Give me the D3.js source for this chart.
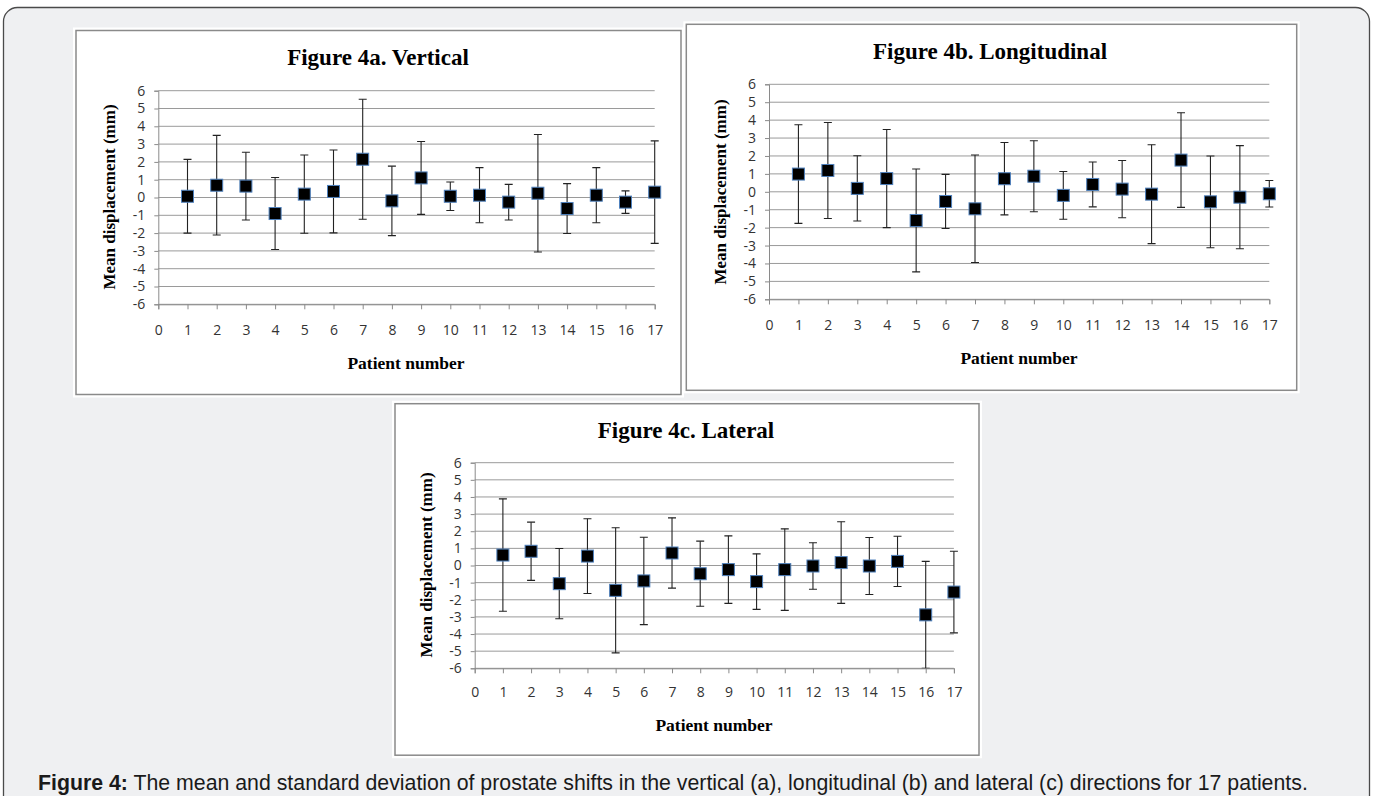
<!DOCTYPE html>
<html>
<head>
<meta charset="utf-8">
<script src="https://cdn.jsdelivr.net/npm/d3@7"></script>
<style>
  html, body { margin: 0; padding: 0; background: #ffffff; }
  svg { display: block; }
</style>
</head>
<body>
<svg id="chart" width="1375" height="796"></svg>
<script>
// ---------- DATA ----------
const patients = [1,2,3,4,5,6,7,8,9,10,11,12,13,14,15,16,17];
const xTickValues = [0,1,2,3,4,5,6,7,8,9,10,11,12,13,14,15,16,17];
const yTickValues = [-6,-5,-4,-3,-2,-1,0,1,2,3,4,5,6];

const verticalMean = [0.07,0.69,0.64,-0.90,0.19,0.34,2.15,-0.19,1.10,0.07,0.13,-0.26,0.24,-0.62,0.13,-0.26,0.30];
const verticalSD   = [2.07,2.80,1.90,2.02,2.20,2.33,3.37,1.95,2.05,0.80,1.55,1.00,3.30,1.40,1.55,0.63,2.88];

const longitudinalMean = [0.99,1.19,0.19,0.74,-1.60,-0.54,-0.95,0.73,0.87,-0.20,0.41,0.15,-0.13,1.77,-0.56,-0.30,-0.11];
const longitudinalSD   = [2.75,2.68,1.82,2.74,2.87,1.51,3.00,2.02,1.98,1.33,1.25,1.60,2.76,2.64,2.56,2.88,0.74];

const lateralMean = [0.61,0.83,-1.06,0.55,-1.45,-0.90,0.73,-0.48,-0.24,-0.94,-0.24,-0.03,0.17,-0.03,0.24,-2.88,-1.55];
const lateralSD   = [3.28,1.70,2.05,2.18,3.65,2.55,2.05,1.90,1.97,1.62,2.38,1.36,2.38,1.66,1.47,3.12,2.38];

const panelTitles = ["Figure 4a. Vertical", "Figure 4b. Longitudinal", "Figure 4c. Lateral"];
const yAxisTitle = "Mean displacement (mm)";
const xAxisTitle = "Patient number";
const captionBold = "Figure 4:";
const captionText = " The mean and standard deviation of prostate shifts in the vertical (a), longitudinal (b) and lateral (c) directions for 17 patients.";

// ---------- LAYOUT ----------
const svg = d3.select("#chart");

svg.append("rect")
  .attr("x", 3.5).attr("y", 7.5)
  .attr("width", 1366).attr("height", 820)
  .attr("rx", 14).attr("ry", 14)
  .attr("fill", "#eff0f2")
  .attr("stroke", "#4a4a4a").attr("stroke-width", 1.3);

const panels = [
  { title: panelTitles[0], mean: verticalMean, sd: verticalSD,
    frame: {x: 76, y: 30.5, w: 605, h: 364},
    plot: {x0: 158.3, x1: 654.7, y0: 90.7, y1: 304.3},
    titlePos: [378, 65], yTitlePos: [109, 197], xTitlePos: [406, 369], xLabGap: 30 },
  { title: panelTitles[1], mean: longitudinalMean, sd: longitudinalSD,
    frame: {x: 686.3, y: 24.3, w: 610.4, h: 366},
    plot: {x0: 769, x1: 1269.3, y0: 84.3, y1: 299.3},
    titlePos: [990, 59], yTitlePos: [720, 192], xTitlePos: [1019, 364], xLabGap: 30 },
  { title: panelTitles[2], mean: lateralMean, sd: lateralSD,
    frame: {x: 395, y: 403.7, w: 584, h: 351.5},
    plot: {x0: 474.7, x1: 953.9, y0: 462.7, y1: 668.3},
    titlePos: [686, 438], yTitlePos: [426, 565], xTitlePos: [714, 731], xLabGap: 28 }
];

const tickFont = "'Open Sans', 'Liberation Sans', sans-serif";
const serifFont = "'Liberation Serif', 'DejaVu Serif', serif";

panels.forEach((p, pi) => {
  const g = svg.append("g");
  g.append("rect")
    .attr("x", p.frame.x - 3).attr("y", p.frame.y - 3)
    .attr("width", p.frame.w + 6).attr("height", p.frame.h + 6)
    .attr("fill", "#ffffff");
  g.append("rect")
    .attr("x", p.frame.x).attr("y", p.frame.y)
    .attr("width", p.frame.w).attr("height", p.frame.h)
    .attr("fill", "#ffffff").attr("stroke", "#8a8a8a").attr("stroke-width", 1.5);

  const x = d3.scaleLinear().domain([0, 17]).range([p.plot.x0, p.plot.x1]);
  const y = d3.scaleLinear().domain([-6, 6]).range([p.plot.y1, p.plot.y0]);

  g.append("g").selectAll("line").data(yTickValues).join("line")
    .attr("x1", p.plot.x0).attr("x2", p.plot.x1)
    .attr("y1", d => y(d)).attr("y2", d => y(d))
    .attr("stroke", "#9a9a9a").attr("stroke-width", 1);

  const yAxis = d3.axisLeft(y).tickValues(yTickValues).tickSize(4).tickPadding(9)
    .tickFormat(d => String(d));
  const yg = g.append("g").attr("transform", `translate(${p.plot.x0},0)`).call(yAxis);
  yg.select(".domain").attr("stroke", "#8a8a8a");
  yg.selectAll(".tick line").attr("stroke", "#8a8a8a");
  yg.selectAll(".tick text").attr("font-family", tickFont).attr("font-size", 14).attr("fill", "#333");

  const xAxis = d3.axisBottom(x).tickValues(xTickValues).tickSize(5).tickPadding(p.xLabGap - 14)
    .tickFormat(d => String(d));
  const xg = g.append("g").attr("transform", `translate(0,${y(-6)})`).call(xAxis);
  xg.select(".domain").attr("stroke", "#8a8a8a");
  xg.selectAll(".tick line").attr("stroke", "#8a8a8a");
  xg.selectAll(".tick text").attr("font-family", tickFont).attr("font-size", 14).attr("fill", "#333");

  const clipId = "clip" + pi;
  g.append("clipPath").attr("id", clipId).append("rect")
    .attr("x", p.plot.x0 - 10).attr("y", p.plot.y0)
    .attr("width", p.plot.x1 - p.plot.x0 + 20).attr("height", p.plot.y1 - p.plot.y0);

  const data = patients.map((pt, i) => ({ pt, m: p.mean[i], s: p.sd[i] }));
  const eg = g.append("g").attr("clip-path", `url(#${clipId})`);
  const capW = 4;
  const bars = eg.selectAll("g.eb").data(data).join("g").attr("class", "eb");
  bars.append("line")
    .attr("x1", d => x(d.pt)).attr("x2", d => x(d.pt))
    .attr("y1", d => y(d.m + d.s)).attr("y2", d => y(d.m - d.s))
    .attr("stroke", "#222").attr("stroke-width", 1.1);
  bars.append("line")
    .attr("x1", d => x(d.pt) - capW).attr("x2", d => x(d.pt) + capW)
    .attr("y1", d => y(d.m + d.s)).attr("y2", d => y(d.m + d.s))
    .attr("stroke", "#222").attr("stroke-width", 1.1);
  bars.append("line")
    .attr("x1", d => x(d.pt) - capW).attr("x2", d => x(d.pt) + capW)
    .attr("y1", d => y(d.m - d.s)).attr("y2", d => y(d.m - d.s))
    .attr("stroke", "#222").attr("stroke-width", 1.1);

  const ms = 12;
  g.append("g").selectAll("rect").data(data).join("rect")
    .attr("x", d => x(d.pt) - ms / 2).attr("y", d => y(d.m) - ms / 2)
    .attr("width", ms).attr("height", ms)
    .attr("fill", "#000").attr("stroke", "#4f81bd").attr("stroke-width", 1);

  g.append("text").attr("x", p.titlePos[0]).attr("y", p.titlePos[1])
    .attr("text-anchor", "middle").attr("font-family", serifFont)
    .attr("font-weight", "bold").attr("font-size", 23).attr("fill", "#000")
    .text(p.title);
  g.append("text")
    .attr("transform", `translate(${p.yTitlePos[0] + 6},${p.yTitlePos[1]}) rotate(-90)`)
    .attr("text-anchor", "middle").attr("font-family", serifFont)
    .attr("font-weight", "bold").attr("font-size", 17).attr("fill", "#000")
    .text(yAxisTitle);
  g.append("text").attr("x", p.xTitlePos[0]).attr("y", p.xTitlePos[1])
    .attr("text-anchor", "middle").attr("font-family", serifFont)
    .attr("font-weight", "bold").attr("font-size", 17.5).attr("fill", "#000")
    .text(xAxisTitle);
});

const cap = svg.append("text").attr("x", 38).attr("y", 790)
  .attr("font-family", "'Liberation Sans', Arial, sans-serif").attr("font-size", 21.3).attr("fill", "#1a1a1a");
cap.append("tspan").attr("font-weight", "bold").text(captionBold);
cap.append("tspan").text(captionText);
</script>
</body>
</html>
